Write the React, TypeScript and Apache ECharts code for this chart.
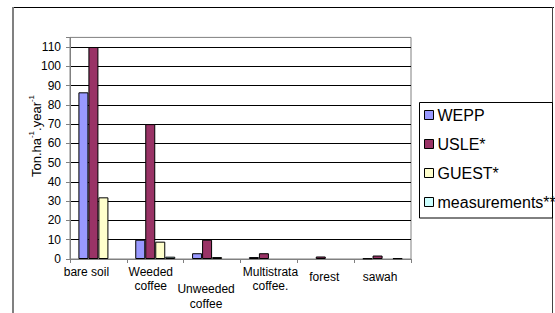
import React, { useEffect, useRef } from "react";
import * as echarts from "echarts";

const categories = ["bare soil", "Weeded\ncoffee", "Unweeded\ncoffee", "Multistrata\ncoffee.", "forest", "sawah"];
const wepp = [86.5, 10, 3, 1, null, 0.3];
const usle = [110, 70, 10, 3, 1.3, 1.8];
const guest = [32, 9, 1, null, null, null];
const measurements = [null, 1.2, null, null, null, 0.4];
const yTicks = [0, 10, 20, 30, 40, 50, 60, 70, 80, 90, 100, 110];

const FONT = "'Liberation Sans', Arial, sans-serif";

// per-category label tweaks (padding: [top, right, bottom, left])
const labelPads = [
  [0, 24, 0, 0],
  [0, 9, 0, 0],
  [16, 12, 0, 0],
  [0, 0, 0, 3],
  [5, 3, 0, 0],
  [5, 5, 0, 0],
];

export default function App() {
  const ref = useRef<HTMLDivElement>(null);
  useEffect(() => {
    if (!ref.current) return;
    const chart = echarts.init(ref.current, null, { renderer: "svg" });
    const mkSeries = (name: string, data: (number | null)[], color: string) => ({
      name,
      type: "bar",
      data: data.map((v) => (v === null ? "-" : v)),
      barWidth: 10,
      barGap: "0%",
      itemStyle: { color, borderColor: "#000", borderWidth: 1 },
    });
    chart.setOption({
      animation: false,
      backgroundColor: "#fff",
      textStyle: { fontFamily: FONT },
      grid: {
        left: 70,
        right: 144,
        top: 37.4,
        bottom: 54,
        show: true,
        borderColor: "#808080",
        borderWidth: 1,
        backgroundColor: "transparent",
      },
      legend: {
        orient: "vertical",
        left: 424,
        top: 107,
        padding: 0,
        itemWidth: 9,
        itemHeight: 9,
        itemGap: 13,
        icon: "rect",
        textStyle: { fontSize: 16, fontFamily: FONT, color: "#000", padding: [0, 0, 0, -1] },
        itemStyle: { borderColor: "#000", borderWidth: 1 },
        data: ["WEPP", "USLE*", "GUEST*", "measurements**"],
      },
      xAxis: {
        type: "category",
        data: categories.map((c, i) => ({
          value: c,
          textStyle: { padding: labelPads[i], lineHeight: i === 2 ? 15 : 14 },
        })),
        axisLine: { lineStyle: { color: "#808080" } },
        axisTick: { show: true, length: 4, lineStyle: { color: "#808080" } },
        axisLabel: {
          interval: 0,
          fontSize: 12,
          fontFamily: FONT,
          color: "#000",
          margin: 6,
          lineHeight: 14,
        },
        splitLine: { show: false },
      },
      yAxis: {
        type: "value",
        min: 0,
        max: 115,
        interval: 10,
        axisLine: { show: true, lineStyle: { color: "#808080" } },
        axisTick: { show: true, length: 4, lineStyle: { color: "#808080" } },
        axisLabel: {
          fontSize: 12,
          fontFamily: FONT,
          color: "#000",
          margin: 9,
          formatter: (v: number) => (yTicks.includes(v) ? String(v) : ""),
        },
        splitLine: { show: true, showMaxLine: false, lineStyle: { color: "#000", width: 1 } },
      },
      series: [
        mkSeries("WEPP", wepp, "#9999FF"),
        mkSeries("USLE*", usle, "#993366"),
        mkSeries("GUEST*", guest, "#FFFFCC"),
        mkSeries("measurements**", measurements, "#CCFFFF"),
      ],
      graphic: [
        { type: "line", shape: { x1: 12, y1: 7.5, x2: 554, y2: 7.5 }, style: { stroke: "#000", lineWidth: 1 } },
        { type: "line", shape: { x1: 13, y1: 7, x2: 13, y2: 313 }, style: { stroke: "#808080", lineWidth: 2 } },
        { type: "line", shape: { x1: 552.5, y1: 7, x2: 552.5, y2: 313 }, style: { stroke: "#444", lineWidth: 1 } },
        {
          type: "rect",
          shape: { x: 419.5, y: 102.5, width: 133, height: 115.5 },
          style: { fill: "transparent", stroke: "#000", lineWidth: 1 },
          z: 10,
        },
        {
          type: "text",
          x: 35,
          y: 136,
          rotation: Math.PI / 2,
          style: {
            text: "{m|Ton.ha}{s|-1}{m|.year}{s|-1}",
            align: "center",
            verticalAlign: "middle",
            rich: {
              m: { fontSize: 13, fontFamily: FONT, fill: "#000", lineHeight: 16, verticalAlign: "bottom" },
              s: { fontSize: 8, fontFamily: FONT, fill: "#000", lineHeight: 16, verticalAlign: "top" },
            },
          },
        },
      ],
    });
    return () => chart.dispose();
  }, []);
  return <div ref={ref} style={{ position: "fixed", left: 0, top: 0, width: 555, height: 313 }} />;
}
